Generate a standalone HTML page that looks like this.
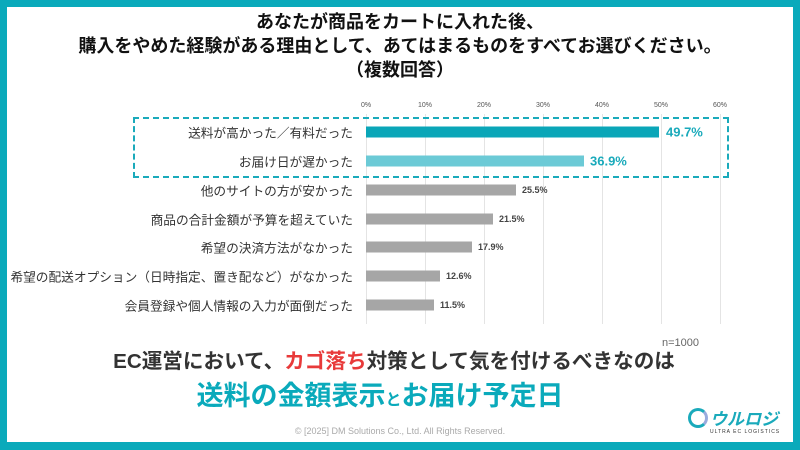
<!DOCTYPE html>
<html><head><meta charset="utf-8"><style>
body{margin:0;width:800px;height:450px;overflow:hidden;background:#fff;font-family:"Liberation Sans","Noto Sans CJK JP",sans-serif}
.f{position:absolute;left:0;top:0;width:786px;height:435px;border:7px solid #0aaabb;border-bottom-width:8px;background:#fff}
.t{position:absolute;left:0;width:800px;text-align:center;font-weight:bold;color:#111;font-size:18px;white-space:nowrap}
.a{position:absolute;font-size:7px;color:#555;transform:translateX(-50%)}
.g{position:absolute;top:114px;height:210px;width:1px;background:#e4e4e4}
.l{position:absolute;right:447px;font-size:12.7px;color:#333;white-space:nowrap;transform:translateY(-50%)}
.b{position:absolute;left:366px;height:11px;transform:translateY(-50%);background:#a6a6a6}
.v{position:absolute;font-size:9px;color:#444;transform:translateY(-50%);font-weight:bold}
</style></head><body>
<div class="f"></div>
<div class="t" style="top:8px">あなたが商品をカートに入れた後、</div>
<div class="t" style="top:32px">購入をやめた経験がある理由として、あてはまるものをすべてお選びください。</div>
<div class="t" style="top:56px">（複数回答）</div>
<div class="a" style="left:366px;top:102px">0%</div><div class="a" style="left:425px;top:102px">10%</div><div class="a" style="left:484px;top:102px">20%</div><div class="a" style="left:543px;top:102px">30%</div><div class="a" style="left:602px;top:102px">40%</div><div class="a" style="left:661px;top:102px">50%</div><div class="a" style="left:720px;top:102px">60%</div>
<div class="g" style="left:366px"></div><div class="g" style="left:425px"></div><div class="g" style="left:484px"></div><div class="g" style="left:543px"></div><div class="g" style="left:602px"></div><div class="g" style="left:661px"></div><div class="g" style="left:720px"></div>
<div style="position:absolute;left:133px;top:117px;width:592px;height:57px;border:2px dashed #1aaabb"></div>
<div class="l" style="top:132px">送料が高かった／有料だった</div><div class="b" style="top:132px;width:293px;background:#0aa6b8"></div><div class="v" style="top:132px;left:666px;font-size:13px;color:#1aaabb">49.7%</div>
<div class="l" style="top:161px">お届け日が遅かった</div><div class="b" style="top:161px;width:218px;background:#6ccad6"></div><div class="v" style="top:161px;left:590px;font-size:13px;color:#1aaabb">36.9%</div>
<div class="l" style="top:190px">他のサイトの方が安かった</div><div class="b" style="top:190px;width:150px"></div><div class="v" style="top:190px;left:522px">25.5%</div>
<div class="l" style="top:219px">商品の合計金額が予算を超えていた</div><div class="b" style="top:219px;width:127px"></div><div class="v" style="top:219px;left:499px">21.5%</div>
<div class="l" style="top:247px">希望の決済方法がなかった</div><div class="b" style="top:247px;width:106px"></div><div class="v" style="top:247px;left:478px">17.9%</div>
<div class="l" style="top:276px">希望の配送オプション（日時指定、置き配など）がなかった</div><div class="b" style="top:276px;width:74px"></div><div class="v" style="top:276px;left:446px">12.6%</div>
<div class="l" style="top:305px">会員登録や個人情報の入力が面倒だった</div><div class="b" style="top:305px;width:68px"></div><div class="v" style="top:305px;left:440px">11.5%</div>
<div style="position:absolute;left:662px;top:337px;font-size:11px;color:#666">n=1000</div>
<div class="t" style="top:344px;font-size:20.6px;color:#333;left:-6px">EC運営において、<span style="color:#e83a3a">カゴ落ち</span>対策として気を付けるべきなのは</div>
<div class="t" style="top:374px;font-size:27px;color:#0aaabb;left:-20px">送料の金額表示<span style="font-size:16px">と</span>お届け予定日</div>
<div class="t" style="top:426px;font-size:9px;font-weight:normal;color:#aaa">© [2025] DM Solutions Co., Ltd. All Rights Reserved.</div>
<div style="position:absolute;left:688px;top:408px;width:14px;height:14px;border:3px solid #1aaabb;border-radius:50%;border-right-color:#9ad"></div>
<div style="position:absolute;left:710px;top:405px;font-size:17px;font-weight:bold;color:#1aaabb;font-style:italic">ウルロジ</div>
<div style="position:absolute;left:710px;top:429px;font-size:5px;color:#333;letter-spacing:1px">ULTRA EC LOGISTICS</div>
</body></html>
